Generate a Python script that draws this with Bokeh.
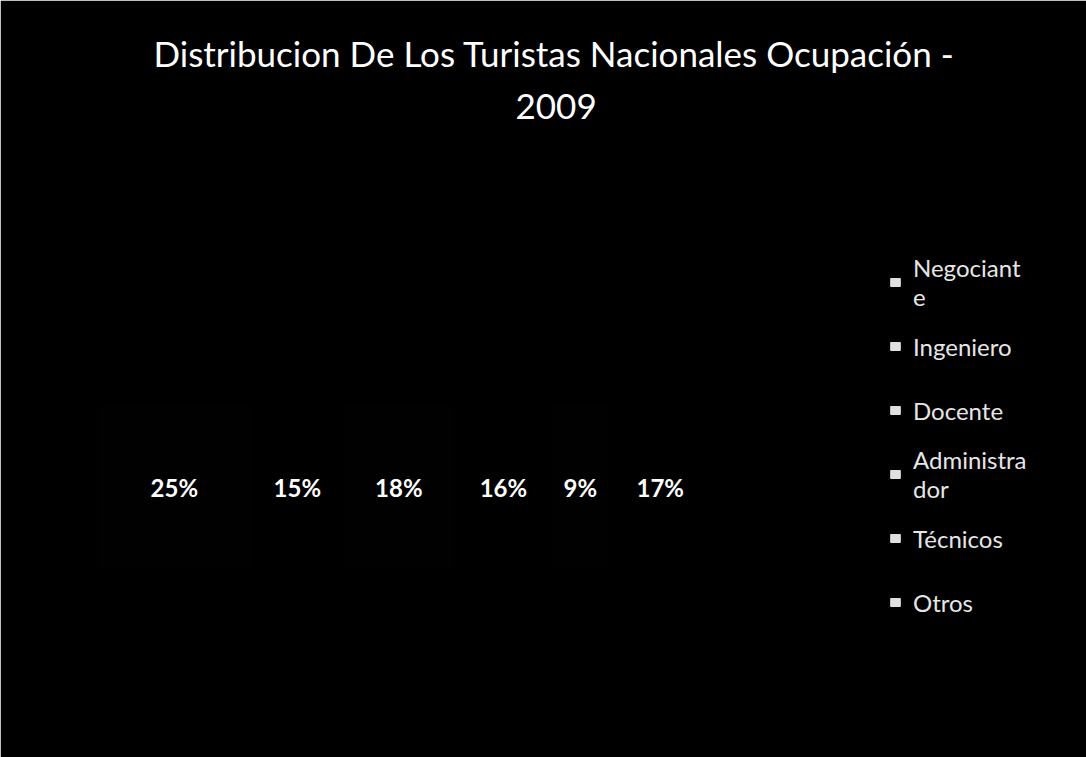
from bokeh.plotting import figure
from bokeh.models import (Range1d, Legend, LegendItem, ColumnDataSource, LabelSet, Title)
from bokeh.core.properties import value
from bokeh.embed import file_html
from bokeh.resources import INLINE

# ---- data ----
categories = ["Negociante", "Ingeniero", "Docente", "Administrador", "Técnicos", "Otros"]
legend_labels = ["Negociant\ne", "Ingeniero", "Docente", "Administra\ndor", "Técnicos", "Otros"]
values = [25, 15, 18, 16, 9, 17]
bar_colors = ["#010101", "#000000", "#010101", "#000000", "#010101", "#000000"]
title_line1 = "Distribucion De Los Turistas Nacionales Ocupación -"
title_line2 = "2009"

W, H = 1086, 757
left_b, right_b, top_b, bottom_b = 97, 20, 140, 21
frame_w = W - left_b - right_b
bar_px = 615.0
x_end = 100 * frame_w / bar_px

p = figure(width=W, height=H, output_backend="svg", toolbar_location=None,
           x_range=Range1d(0, x_end), y_range=Range1d(0, 1),
           min_border_left=left_b, min_border_right=right_b,
           min_border_top=top_b, min_border_bottom=bottom_b)
p.background_fill_color = "black"
p.border_fill_color = "black"
p.outline_line_color = "black"
p.outline_line_width = 3
p.xgrid.visible = False
p.ygrid.visible = False
p.xaxis.visible = False
p.yaxis.visible = False

# outer title line
p.title.text = title_line1
p.title.align = "left"
p.title.offset = 56
p.title.text_color = "white"
p.title.text_font = "Lato"
p.title.text_font_size = "35px"
p.title.text_font_style = "normal"
p.title.standoff = -8
# inner title line (closest to the frame)
p.add_layout(Title(text=title_line2, align="left", offset=418, text_color="white",
                   text_font="Lato", text_font_size="35px",
                   text_font_style="normal", standoff=44), "above")

starts, ends, mids, texts = [], [], [], []
acc = 0
for v in values:
    starts.append(acc)
    ends.append(acc + v)
    mids.append(acc + v / 2)
    texts.append(f"{v}%")
    acc += v

src = ColumnDataSource(dict(left=starts, right=ends, mid=mids, txt=texts,
                            y=[0.418] * len(values), color=bar_colors, cat=categories))
p.hbar(y="y", left="left", right="right", height=0.28, fill_color="color",
       line_color=None, source=src)

labels = LabelSet(x="mid", y="y", text="txt", source=src, text_align="center",
                  text_baseline="middle", text_color="white",
                  text_font=value("Lato"), text_font_size=value("24px"),
                  text_font_style="bold")
p.add_layout(labels)

# legend swatches (scanned legend shows small light squares); hidden in the plot
items = []
for lab in legend_labels:
    r = p.hbar(y="y", left="left", right="right", height=0.28, source=src,
               fill_color="#e0e0e0", line_color="#e0e0e0", visible=False)
    items.append(LegendItem(label=lab, renderers=[r]))

legend = Legend(items=items, location=(792, 102))
legend.background_fill_alpha = 0
legend.border_line_color = None
legend.label_text_color = "#e6e6e6"
legend.label_text_font = "Lato"
legend.label_text_font_size = "24px"
legend.label_text_baseline = "top"
legend.glyph_width = 12
legend.glyph_height = 10
legend.label_standoff = 12
legend.label_height = 64
legend.spacing = 0
p.add_layout(legend)

open("out.html", "w").write(file_html(p, INLINE))
